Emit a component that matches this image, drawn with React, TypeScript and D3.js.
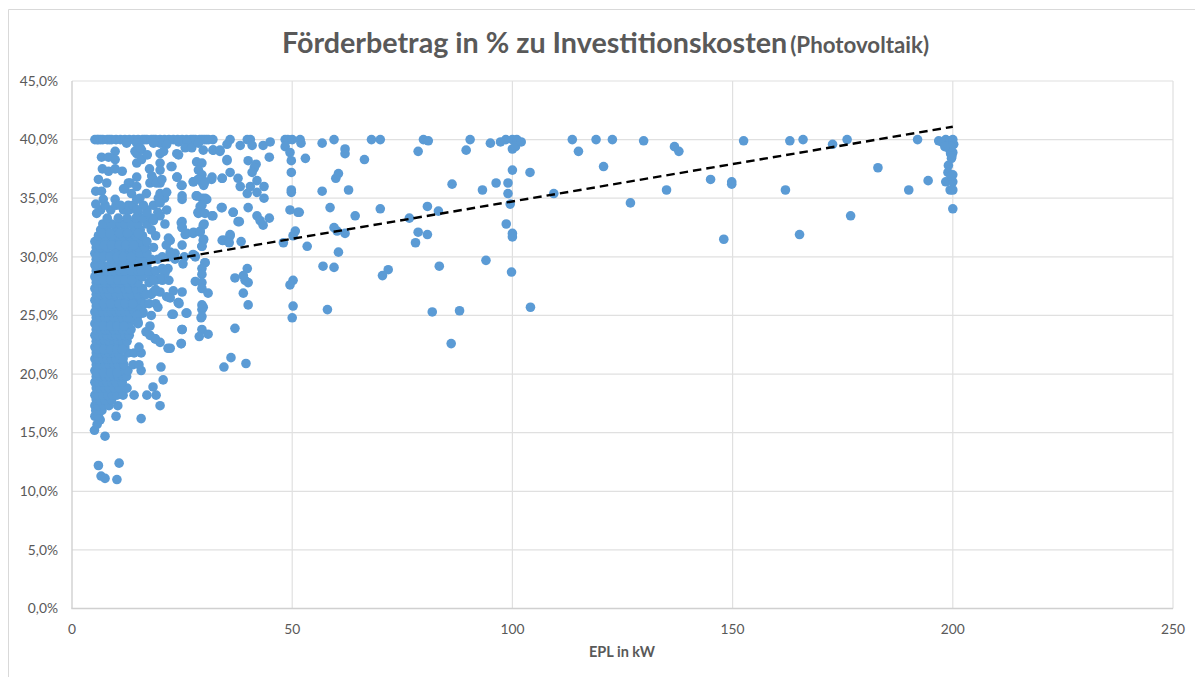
import React from "react";
import * as d3 from "d3";

const xTicks = [0, 50, 100, 150, 200, 250];
const yTicks = [0, 5, 10, 15, 20, 25, 30, 35, 40, 45];
const titleMain = "Förderbetrag in % zu Investitionskosten";
const titleSub = "(Photovoltaik)";
const xLabel = "EPL in kW";
const trendKw = [5, 200];
const trendPct = [28.67, 41.1];

// EPL values that sit exactly on the 40 % cap
const cappedKw = [5.2, 5.7, 6, 6.5, 7, 8, 8.5, 9, 10, 11, 12, 13, 14, 15, 16, 16.5, 17, 18, 18.5, 19, 20, 21, 22, 23, 24, 25, 26, 27, 27.5, 28, 29, 29.5, 30, 30.5, 31, 32, 35.9, 39.8, 40.5, 48.4, 49, 50, 51.8, 59.5, 68, 70, 79.8, 90.4, 98.5, 100, 101, 113.6, 119, 122.7, 176, 192, 166];

// dense block at small plant sizes: [pct, kW values]
const blobRows: [number, number[]][] = [
  [15.2, [5.1]], [15.7, [5.7]], [16.1, [6.4]], [16.4, [5.2, 6, 10]], [16.9, [5.4, 6.8]],
  [17.3, [5.2, 6, 7.2, 8.4, 10.4]], [17.8, [5.5, 6.3, 7.5, 9]], [18.2, [5.2, 6, 7, 8.2, 9.2, 10.2, 11.6, 14.1]],
  [18.8, [5.5, 6.4, 7.5, 8.5, 9.6, 10.8, 12.5]], [19.3, [5.2, 6, 7, 8, 9, 10, 11.4]],
  [19.8, [5.5, 6.5, 7.5, 8.5, 9.5, 10.5, 11.5, 12.4]], [20.3, [5.2, 6, 7, 8, 9, 10, 11, 12.7, 15.7]],
  [20.8, [5.5, 6.5, 7.5, 8.5, 9.5, 10.5, 11.8, 13.9, 15.2]], [21.3, [5.2, 6, 7, 8, 9, 10, 11, 11.6]],
  [21.8, [5.5, 6.5, 7.5, 8.5, 9.5, 10.5, 12.7, 14.1, 15.7]], [22.3, [5.2, 6, 7, 8, 9, 10, 11, 12, 15.2]],
  [22.8, [5.5, 6.5, 7.5, 8.5, 9.5, 10.5, 11.5, 12.5]], [23.3, [5.2, 6, 7, 8, 9, 10, 11, 12, 13]],
  [23.8, [5.5, 6.5, 7.5, 8.5, 9.5, 10.5, 11.5, 12.5, 13.4]], [24.3, [5.2, 6, 7, 8, 9, 10, 11, 12, 13, 15]],
  [24.8, [5.5, 6.5, 7.5, 8.5, 9.5, 10.5, 11.5, 12.5, 13.5, 14.8]], [25.3, [5.2, 6, 7, 8, 9, 10, 11, 12, 13, 14.2, 16.1]],
  [25.8, [5.5, 6.5, 7.5, 9, 10.2, 11, 12.5, 13.5, 14.7, 15.5]], [26.3, [5.2, 6, 7, 8, 9.5, 11.5, 12.2, 13, 14.2, 15.6]],
  [26.8, [5.5, 6.5, 7.5, 8.5, 10, 11, 12.5, 13.5, 15, 16.5, 18]], [27.3, [5.2, 6, 7, 8, 9, 10.5, 12, 13, 14.5, 16]],
  [27.8, [5.5, 6.5, 7.5, 8.5, 9.5, 11, 12.5, 14, 15, 17.5]], [28.3, [5.2, 6, 7, 8, 9, 10, 11.5, 13, 14.5, 16, 18]],
  [28.8, [5.5, 6.5, 7.5, 8.5, 9.5, 11, 12, 13.5, 15, 15.8, 17.5, 19]], [29.3, [5.2, 6, 7, 8.5, 10, 11.5, 12.5, 14, 15.5, 17]],
  [29.8, [5.5, 6.5, 9, 10.5, 12, 13, 14.5, 16, 18, 19.5]], [30.3, [5.2, 6.2, 7.8, 9.5, 11, 12.5, 14, 15.5, 17]],
  [30.8, [5.5, 6.5, 8, 10, 11.5, 13, 15, 16.5, 18.5]], [31.3, [5.2, 7, 8.5, 9.5, 11, 12, 13.5, 15.5, 17]],
  [31.8, [6, 7.5, 9, 10.5, 11.5, 13, 14.5, 16, 19]], [32.3, [6.5, 8, 10, 12, 14, 15.5, 18]],
  [32.8, [7, 9, 11, 12, 13.5, 15, 17]], [33.3, [8, 10.5, 12.5, 14.5, 16, 18]], [34, [6.5, 8.8, 11.7, 13, 14.8, 17]],
  [33.8, [15, 17, 19.5]], [34.4, [7.5, 10, 12.8, 13.9, 16.2, 18.5]], [35, [15.4, 19.6, 21]], [35.4, [13.5, 16.9]],
  [30, [20.5, 22]], [29, [20.5, 21.8]], [28, [19, 20.5, 22]], [27, [18.5, 20]], [26, [16.5, 17.5]],
  [20.1, [5.8, 7.2, 8.8, 10.2]], [22.1, [5.8, 7.2, 8.8, 10.2, 11.4]], [24.1, [5.8, 7.2, 8.8, 10.2, 11.8]],
  [26, [5.8, 7.2, 8.8, 10.7, 12, 13.8]], [28, [5.8, 7.2, 8.8, 10.5, 12, 13.5]], [30, [5.8, 7.2, 8.6, 10.2, 11.6, 13.4]],
  [31, [6.2, 7.4, 9, 10.8, 12.2, 14]], [32, [6.8, 8.6, 10.8, 12.6, 15]],
];

// upper scatter at small plant sizes
const upperKw = [6.7, 8.3, 9.8, 9.8, 6.9, 8.3, 9.8, 11.4, 6, 7.9, 5.4, 6.7, 7.1, 5.4, 5.6, 9.8, 11, 12, 13.2, 14.7, 14.7, 14.7, 14.7, 14.7, 14.7, 14.7, 15.8, 15.8, 17.1, 17.6, 20, 20, 20, 20, 20, 20, 20, 20, 18.1, 17.7, 21.5, 21.5, 21.1, 18.5, 21.9, 21.4, 22.5, 23.8, 25, 25, 25, 24.2, 26.1, 25.7, 24.2, 28.3, 29.5, 28.7, 29.5, 27.6, 29.5, 31.7, 29.9, 28.2, 29.5, 30.6, 29.1, 28.7, 32, 25, 25, 26.1, 27.6, 29.1, 30, 29.9, 29.5, 25, 27.9, 30.2, 22.7, 24.8, 23.9, 32, 29.8, 35.2, 27.5, 28.6, 31.8, 30.2, 34.1, 36.6, 37.7, 12.4, 14.3, 15.5, 18.5, 21.5, 20.8, 23.8, 27.2, 28.7, 32.1, 33.6, 18.5, 19.2, 20.4, 12.8, 11.7, 16.9, 19, 21.5, 19, 24.2, 21.1, 20, 18.5, 25.5];
const upperPct = [38.5, 38.5, 39, 38.3, 37.5, 37.3, 37.5, 37.3, 36.6, 36.3, 35.6, 35.6, 34.9, 34.5, 33.7, 34.9, 34.4, 35.8, 36.3, 39.7, 38.8, 38, 36.8, 36, 34.9, 34, 39.1, 38.3, 38.7, 37.5, 39.7, 38.8, 38, 37.4, 36.3, 35.4, 34.6, 33.5, 36.9, 36.3, 35.5, 34, 32.8, 33.1, 31.6, 31, 37.7, 36.8, 36.1, 35.2, 34.9, 39.8, 39.8, 39.3, 38.7, 38.1, 38, 37.4, 37, 36.4, 36.4, 36.6, 36.1, 35.2, 35, 34.9, 34.3, 33.7, 33.5, 33, 32.5, 32, 32.1, 32.2, 32.8, 31.5, 30.9, 31, 30.1, 29.5, 37.7, 36.1, 36.8, 39.1, 39.1, 38.3, 36.4, 36.6, 36.8, 36.4, 36.7, 33.8, 33, 39.7, 39, 39.3, 39.7, 39.6, 39, 38.8, 39.3, 39.7, 39.1, 39, 36.6, 36.3, 36.6, 36.3, 35.8, 26.8, 27.2, 26.6, 26, 26.1, 28.6, 28.2, 28, 30];

// mid-size plants, 22 to 50 kW
const midKw = [23.4, 25.2, 23.4, 28, 30.2, 29.5, 29.5, 28, 29.5, 29.5, 30.9, 23, 25, 22.3, 24.1, 23, 25.9, 29.5, 29.5, 29.3, 25, 29.5, 30.9, 28.9, 24.8, 22.3, 34.5, 36.1, 37, 39.5, 39.8, 37, 38.9, 39.3, 40, 38.9, 40, 28.4, 30.2, 29.5, 28.6, 30.2, 31.8, 33.9, 24.8, 25, 25.7, 27.5, 29.8, 29.1, 29.8, 29.5, 34.1, 35.9, 34.8, 22.3, 22.3, 27.5, 35.2, 33.6, 35.2, 38.2, 40.9, 43.4, 45, 44.8, 40, 41.8, 41.4, 40.9, 35.9, 34.1, 37.7, 38.2, 40.5, 42, 43.6, 42, 39.8, 43.6, 34.1, 36.6, 40, 42, 42.7, 43.4, 44.8, 38, 35.9, 34.3, 35.7, 38.4, 26.1, 22.7, 18, 16.1, 14.8, 15, 29.5, 29.8, 24.3, 19.5, 18.9, 17.7, 16.8, 17.7, 25, 24.8, 21.8, 20, 18.9, 20.7, 18.4, 17, 19.1, 20, 15.7, 6, 10.7, 6.6, 7.5, 10.2, 7.5, 20.2];
const midPct = [30.3, 29.4, 29.8, 30, 29.5, 29, 28.5, 27.9, 27.8, 27.3, 26.9, 27.1, 27, 26.5, 26.1, 25.1, 25.2, 25.9, 25.5, 24.8, 23.8, 23.8, 23.4, 23.2, 22.6, 22.2, 20.6, 21.4, 23.9, 20.9, 29, 28.2, 28.4, 28, 27.8, 26.9, 25.9, 35.2, 35, 34.4, 33.8, 33.7, 33.5, 34.2, 32.9, 32.5, 31.9, 32, 32.7, 32.1, 31.4, 30.9, 31.4, 31.8, 31.4, 31.4, 30.4, 30.2, 39.6, 39.1, 38.2, 39.5, 39.5, 39.5, 39.8, 38.5, 38.2, 37.9, 37.6, 37.2, 37.2, 36.7, 36.7, 36, 36, 36.5, 36, 35.5, 35.4, 35, 34.2, 33.8, 34.2, 33.5, 33.1, 32.7, 33.3, 33, 31.9, 31.4, 31.2, 31.3, 25.2, 25.1, 25, 25.2, 25, 24.4, 24.9, 25.7, 26, 25.7, 23, 23.3, 23.6, 24.1, 23.8, 22.6, 22.2, 22.7, 23, 19.5, 18.9, 18.2, 18.2, 17.3, 16.2, 12.2, 12.4, 11.3, 11.1, 11, 14.7, 20.6];

// larger plants
const largeKw = [48.4, 49.5, 49.8, 52, 53, 49.8, 49.8, 49.8, 49.5, 51.6, 50.7, 50.2, 48, 53.4, 50.2, 49.5, 50.2, 50, 56.8, 62, 62, 66.4, 78.6, 80.9, 89.5, 95, 97.3, 100, 100.7, 102, 115, 129.8, 136.8, 137.8, 152.5, 163, 172.7, 104, 100, 120.7, 86.3, 93.2, 96.3, 99, 99, 109.4, 135, 145, 149.8, 149.8, 162, 183, 190, 194.4, 126.8, 99.5, 80.7, 83.2, 76.6, 70, 64.3, 58.6, 51.3, 176.8, 98.6, 78.6, 100, 100, 80.7, 78, 59.5, 60.2, 62, 148, 165.2, 60.5, 57, 59.5, 71.8, 70.5, 83.4, 94, 99.8, 58, 81.8, 88, 104.1, 86.1, 56.8, 59.9, 60.5, 62.8];
const largePct = [39.4, 38.9, 38.2, 39.7, 38.4, 37.2, 35.7, 35.5, 34, 33.8, 32.2, 31.8, 31.2, 30.9, 28, 27.6, 25.8, 24.8, 39.7, 39.2, 38.8, 38.3, 39, 39.9, 39.1, 39.7, 39.8, 39.2, 39.4, 39.8, 39, 39.9, 39.4, 39, 39.9, 39.9, 39.6, 37.2, 37.4, 37.7, 36.2, 35.7, 36.3, 36.3, 35.4, 35.4, 35.7, 36.6, 36.4, 36.2, 35.7, 37.6, 35.7, 36.5, 34.6, 34.5, 34.3, 33.9, 33.3, 34.1, 33.5, 34.2, 33.8, 33.5, 32.8, 32.1, 32, 31.7, 31.9, 31.2, 32.5, 32.2, 32, 31.5, 31.9, 30.4, 29.2, 29.1, 28.9, 28.4, 29.2, 29.7, 28.7, 25.5, 25.3, 25.4, 25.7, 22.6, 35.6, 36.7, 37.1, 35.7];

// stack of plants right at the 200 kW limit
const limitKw = [196.8, 197.5, 198.4, 199, 199.4, 200, 200.2, 199.2, 199.5, 200, 199.8, 199, 198.9, 200, 198.4, 200, 199.4, 200, 200, 199.6, 199.7, 199.6, 198.2];
const limitPct = [39.9, 39.8, 40, 39.6, 39.9, 40, 39.6, 39.2, 38.8, 38.9, 38.6, 37.8, 37.2, 37, 36.4, 36.4, 35.7, 35.7, 34.1, 39.4, 38.4, 36.9, 39.4];

const W = 1195;
const H = 677;
const x = d3.scaleLinear().domain([0, 250]).range([72, 1173]);
const y = d3.scaleLinear().domain([0, 45]).range([608.5, 81]);
const pctFmt = (v: number) => v.toFixed(1).replace(".", ",") + "%";

const zipped = (xs: number[], ys: number[]) => xs.map((k, i) => [k, ys[i]] as [number, number]);
const points: [number, number][] = [
  ...cappedKw.map((k) => [k, 40] as [number, number]),
  ...blobRows.flatMap(([p, ks]) => ks.map((k) => [k, p] as [number, number])),
  ...zipped(upperKw, upperPct),
  ...zipped(midKw, midPct),
  ...zipped(largeKw, largePct),
  ...zipped(limitKw, limitPct),
];

const FONT = "Lato, 'Open Sans', sans-serif";
const GRID = "#e0e0e0";
const TEXT = "#595959";
const BLUE = "#5b9bd5";

export default function App() {
  const trend = d3.line<number>().x((k) => x(k)).y((_, i) => y(trendPct[i]))(trendKw) ?? "";
  return (
    <svg width={W} height={H} viewBox={`0 0 ${W} ${H}`} style={{ position: "absolute", left: 0, top: 0, background: "#fff" }}>
      <path d={`M${W},9.5H8.5V${H}`} fill="none" stroke="#d9d9d9" strokeWidth={1} />
      {yTicks.filter((t) => t > 0).map((t) => (
        <line key={t} x1={x(0)} x2={x(250)} y1={y(t)} y2={y(t)} stroke={GRID} strokeWidth={1.2} />
      ))}
      {xTicks.filter((t) => t > 0).map((t) => (
        <line key={t} x1={x(t)} x2={x(t)} y1={y(45)} y2={y(0)} stroke={GRID} strokeWidth={1.2} />
      ))}
      <line x1={x(0)} x2={x(0)} y1={y(45)} y2={y(0)} stroke="#d0d0d0" strokeWidth={1.4} />
      <line x1={x(0) - 0.7} x2={x(250)} y1={y(0)} y2={y(0)} stroke="#d0d0d0" strokeWidth={1.4} />
      {yTicks.map((t) => (
        <text key={t} x={58} y={y(t)} dy="0.35em" textAnchor="end" fontFamily={FONT} fontSize={13.8} fill={TEXT}>
          {pctFmt(t)}
        </text>
      ))}
      {xTicks.map((t) => (
        <text key={t} x={x(t)} y={634} textAnchor="middle" fontFamily={FONT} fontSize={13.8} fill={TEXT}>
          {t}
        </text>
      ))}
      {points.map(([k, p], i) => (
        <circle key={i} cx={x(k)} cy={y(p)} r={4.8} fill={BLUE} />
      ))}
      <path d={trend} fill="none" stroke="#000" strokeWidth={2.4} strokeDasharray="8.5 5" />
      <text x={605.5} y={52.5} textAnchor="middle" fontFamily={FONT} fontWeight={700} fill={TEXT} fontSize={28.7}>
        {titleMain}
        <tspan dx={3} fontSize={22.3}>{titleSub}</tspan>
      </text>
      <text x={622} y={657} textAnchor="middle" fontFamily={FONT} fontWeight={700} fontSize={14.5} fill={TEXT}>
        {xLabel}
      </text>
    </svg>
  );
}
